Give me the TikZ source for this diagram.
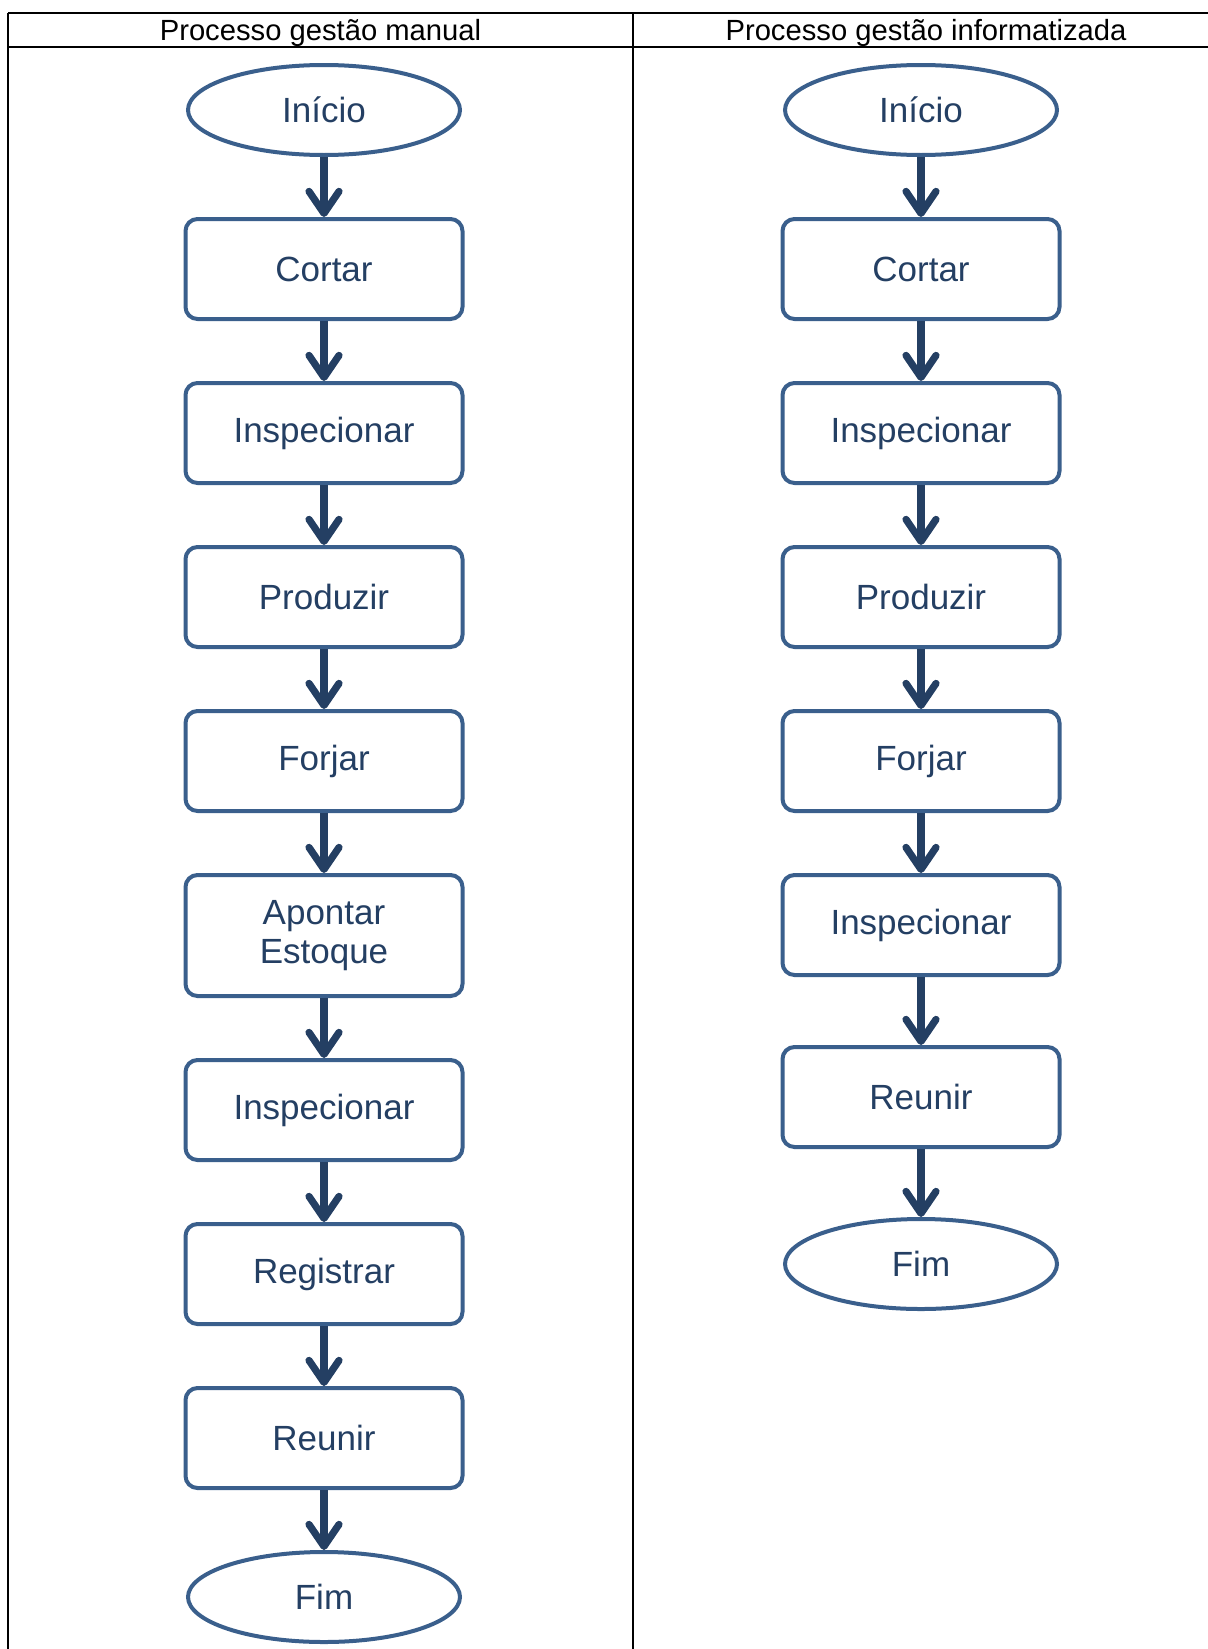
\documentclass[tikz,border=0pt]{standalone}
\usepackage{fontspec}
\setmainfont{Liberation Sans}
\usetikzlibrary{arrows.meta, positioning, shapes.geometric}
\definecolor{azulcontorno}{HTML}{3A5F8C}
\definecolor{azulescuro}{HTML}{243F63}
\colorlet{colBorda}{azulcontorno}
\colorlet{colSeta}{azulescuro}
\colorlet{colTexto}{azulescuro}
\tikzset{
  caixaBase/.style={
    draw=colBorda, line width=2pt, fill=white,
    align=center, text=colTexto,
    font=\fontsize{17.5}{19.5}\selectfont
  },
  caixaEtapa/.style={caixaBase, rectangle, rounded corners=6pt,
    minimum width=138.5pt, minimum height=50pt},
  caixaTerminal/.style={caixaBase, ellipse, inner sep=0pt,
    minimum width=136pt, minimum height=45pt},
  seta/.style={-{Straight Barb[length=11pt, width=15pt, line cap=round, line join=round]},
    line width=3.6pt, colSeta},
  cabecalho/.style={font=\fontsize{14.6}{16}\selectfont, text=black, inner sep=0pt, anchor=base},
  linhaTabela/.style={line width=1pt, black},
}

\begin{document}
\begin{tikzpicture}[x=0.5pt, y=-0.5pt, node distance=30pt]
    \useasboundingbox (0,0) rectangle (1208,1649);
    % Tabela
    \draw[linhaTabela] (8,13) -- (1208,13);
    \draw[linhaTabela] (8,47) -- (1208,47);
    \draw[linhaTabela] (8,13) -- (8,1649);
    \draw[linhaTabela] (633,13) -- (633,1649);
    \node[cabecalho] (h1) at (320.5,40) {Processo gestão manual};
    \node[cabecalho] (h2) at (926,40) {Processo gestão informatizada};

    % Manual
    \node[caixaTerminal] (m0) at (324,110) {Início};
    \node[caixaEtapa, below=of m0] (m1) {Cortar};
    \node[caixaEtapa, below=of m1] (m2) {Inspecionar};
    \node[caixaEtapa, below=of m2] (m3) {Produzir};
    \node[caixaEtapa, below=of m3] (m4) {Forjar};
    \node[caixaEtapa, below=of m4, minimum height=60.5pt] (m5) {Apontar\\Estoque};
    \node[caixaEtapa, below=of m5] (m6) {Inspecionar};
    \node[caixaEtapa, below=of m6] (m7) {Registrar};
    \node[caixaEtapa, below=of m7] (m8) {Reunir};
    \node[caixaTerminal, below=of m8] (m9) {Fim};

    % Informatizada
    \node[caixaTerminal] (i0) at (921,110) {Início};
    \node[caixaEtapa, below=of i0] (i1) {Cortar};
    \node[caixaEtapa, below=of i1] (i2) {Inspecionar};
    \node[caixaEtapa, below=of i2] (i3) {Produzir};
    \node[caixaEtapa, below=of i3] (i4) {Forjar};
    \node[caixaEtapa, below=of i4] (i5) {Inspecionar};
    \node[caixaEtapa, below=34pt of i5] (i6) {Reunir};
    \node[caixaTerminal, below=34pt of i6] (i7) {Fim};

    \draw[seta] (m0)--(m1); \draw[seta] (m1)--(m2); \draw[seta] (m2)--(m3);
    \draw[seta] (m3)--(m4); \draw[seta] (m4)--(m5); \draw[seta] (m5)--(m6);
    \draw[seta] (m6)--(m7); \draw[seta] (m7)--(m8); \draw[seta] (m8)--(m9);
    \draw[seta] (i0)--(i1); \draw[seta] (i1)--(i2); \draw[seta] (i2)--(i3);
    \draw[seta] (i3)--(i4); \draw[seta] (i4)--(i5); \draw[seta] (i5)--(i6);
    \draw[seta] (i6)--(i7);
\end{tikzpicture}
\end{document}
